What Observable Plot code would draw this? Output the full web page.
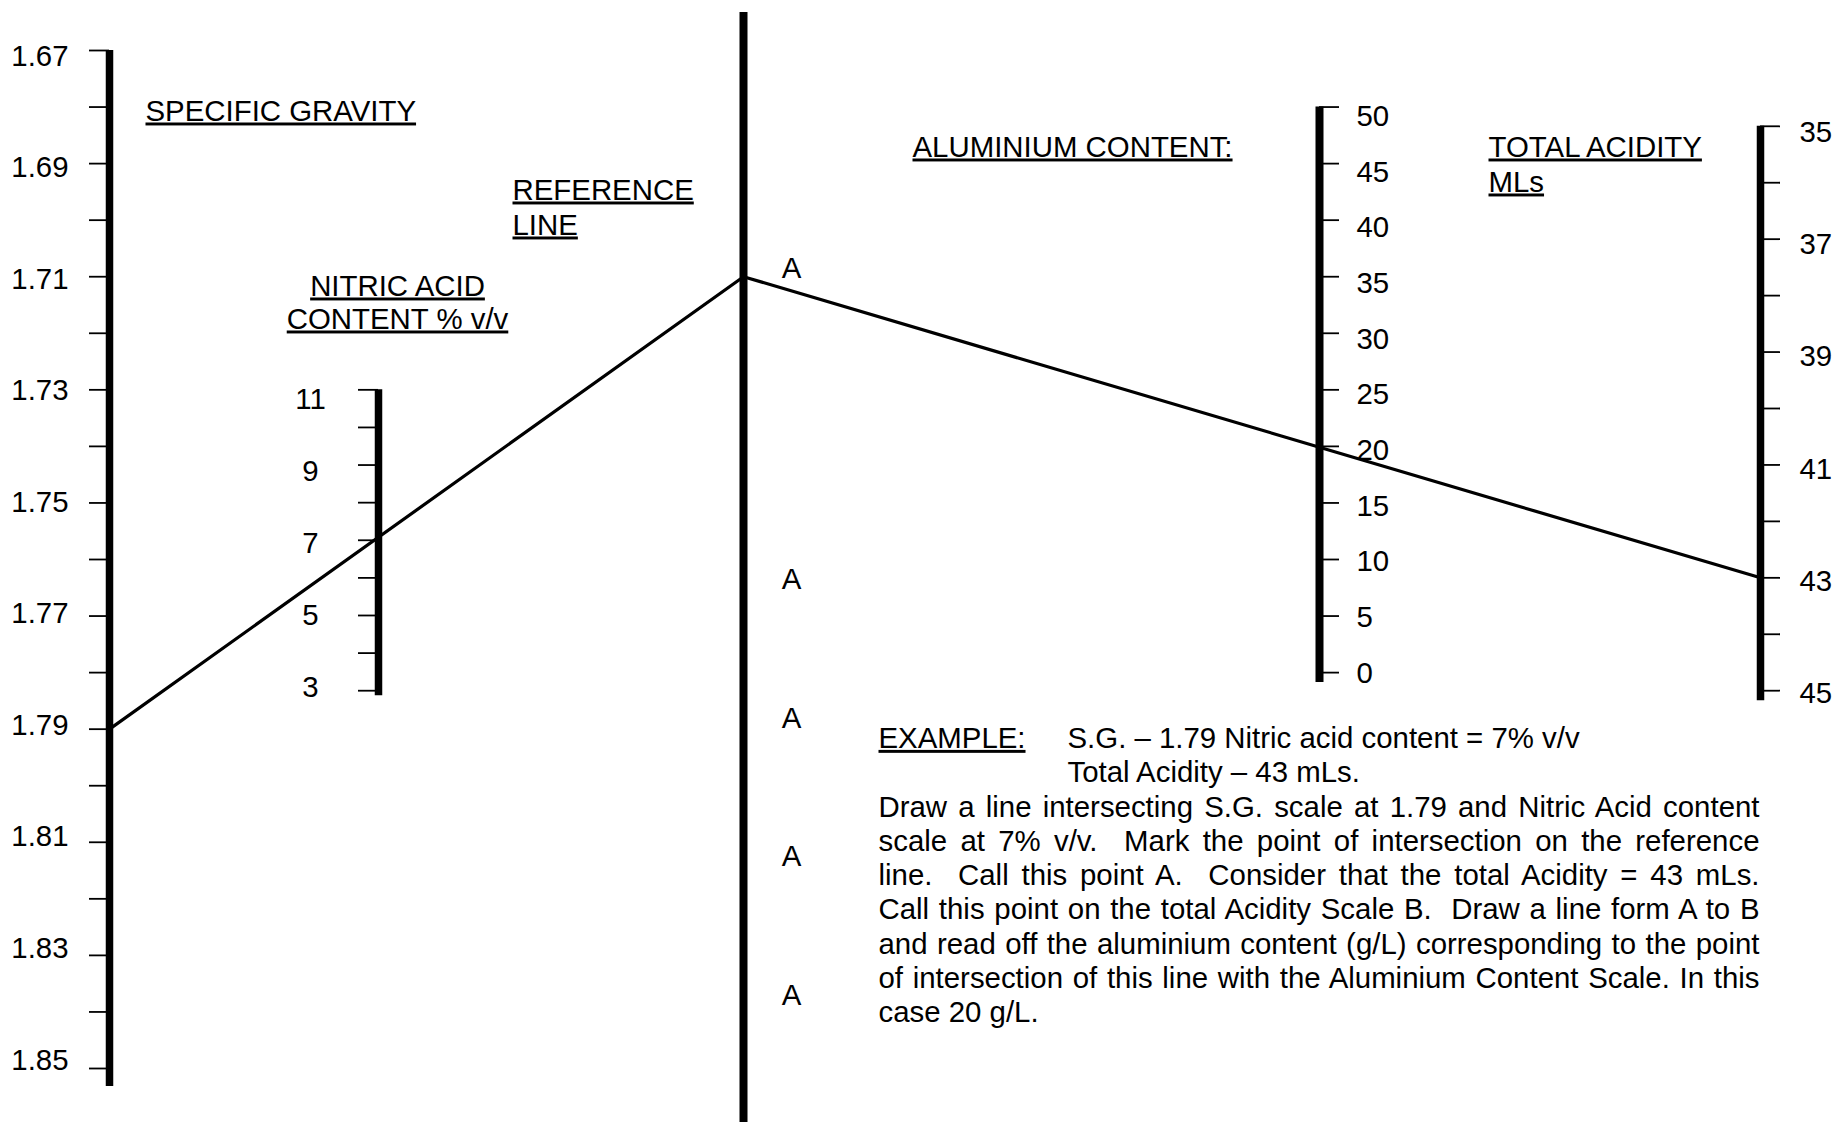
<!DOCTYPE html>
<html>
<head>
<meta charset="utf-8">
<script src="https://cdn.jsdelivr.net/npm/d3@7"></script>
<script src="https://cdn.jsdelivr.net/npm/@observablehq/plot@0.6"></script>
<style>
  html, body { margin: 0; padding: 0; background: #fff; overflow: hidden; }
  #chart svg { display: block; }
</style>
</head>
<body>
<div id="chart"></div>
<script>
// ---------------- DATA ----------------
const sgTicks = [1.67, 1.68, 1.69, 1.70, 1.71, 1.72, 1.73, 1.74, 1.75, 1.76, 1.77, 1.78, 1.79, 1.80, 1.81, 1.82, 1.83, 1.84, 1.85];
const sgLabels = [1.67, 1.69, 1.71, 1.73, 1.75, 1.77, 1.79, 1.81, 1.83, 1.85];
const nitricTicks = [3, 4, 5, 6, 7, 8, 9, 10, 11];
const nitricLabels = [3, 5, 7, 9, 11];
const aluminiumTicks = [0, 5, 10, 15, 20, 25, 30, 35, 40, 45, 50];
const aluminiumLabels = [0, 5, 10, 15, 20, 25, 30, 35, 40, 45, 50];
const acidityTicks = [35, 36, 37, 38, 39, 40, 41, 42, 43, 44, 45];
const acidityLabels = [35, 37, 39, 41, 43, 45];

const exampleSG = 1.79;        // S.G. reading
const exampleNitric = 7;       // nitric acid % v/v
const exampleRefLevel = 1.71;  // point A on the reference line (S.G. level)
const exampleAcidity = 43;     // total acidity, mLs

const sgTitle = ["SPECIFIC GRAVITY"];
const nitricTitle = ["NITRIC ACID", "CONTENT % v/v"];
const refTitle = ["REFERENCE", "LINE"];
const aluminiumTitle = ["ALUMINIUM CONTENT:"];
const acidityTitle = ["TOTAL ACIDITY", "MLs"];
const pointLabels = ["A", "A", "A", "A", "A"];
const exampleHead = ["EXAMPLE:"];
const exampleGiven = ["S.G. \u2013 1.79 Nitric acid content = 7% v/v", "Total Acidity \u2013 43 mLs."];
const exampleBody = [
  "Draw a line intersecting S.G. scale at 1.79 and Nitric Acid content",
  "scale at 7% v/v.  Mark the point of intersection on the reference",
  "line.  Call this point A.  Consider that the total Acidity = 43 mLs.",
  "Call this point on the total Acidity Scale B.  Draw a line form A to B",
  "and read off the aluminium content (g/L) corresponding to the point",
  "of intersection of this line with the Aluminium Content Scale. In this"
];
const exampleLast = ["case 20 g/L."];

// ---------------- LAYOUT ----------------
const W = 1835, H = 1122;
const FS = 29.4;
const FONT = "'Liberation Sans', Arial, Helvetica, sans-serif";
const AX = {sg: 109, nitric: 378, ref: 743, al: 1319, ta: 1760};
const TICK = 20;
const LH = 34.3;
const Y_RANGE = [50, 1068];
const PX = 0.18 / (Y_RANGE[1] - Y_RANGE[0]); // one pixel in S.G. units

// each secondary scale expressed in the units of the S.G. (y) scale
const sgToY = d3.scaleLinear([1.67, 1.85], [1.67, 1.85]);
const nitricToY = d3.scaleLinear([11, 3], [1.73, 1.7832]);
const alToY = d3.scaleLinear([50, 0], [1.68, 1.78]);
const taToY = d3.scaleLinear([35, 45], [1.6834, 1.7832]);

// label baseline offsets (px) at the first and last label of each scale
function labelY(toY, labels, offFirst, offLast) {
  const v0 = labels[0], v1 = labels[labels.length - 1];
  const off = d3.scaleLinear([v0, v1], [offFirst, offLast]);
  return d => toY(d) + off(d) * PX;
}

const guide = [
  {x: AX.sg, y: exampleSG},
  {x: AX.ref, y: exampleRefLevel},
  {x: AX.ta, y: taToY(exampleAcidity)}
];

function textLines(lines, px, baseline, lh, opts = {}) {
  return lines.map((t, i) => Plot.text([t], {
    text: d => d, frameAnchor: "top-left", dx: px, dy: baseline + i * lh,
    lineAnchor: "bottom", fontSize: FS, fill: "black", ...opts
  }));
}

const aBaselines = [277, 588, 727, 865, 1004];

const marks = [
  // scale bars
  Plot.ruleX([AX.sg], {x: d => d, y1: sgTicks[0], y2: sgTicks[sgTicks.length - 1], insetBottom: -18, strokeWidth: 7.5, stroke: "black"}),
  Plot.ruleX([AX.nitric], {x: d => d, y1: nitricToY(11), y2: nitricToY(3), insetBottom: -5, strokeWidth: 7.5, stroke: "black"}),
  Plot.ruleX([AX.ref], {x: d => d, insetTop: 12, strokeWidth: 8, stroke: "black"}),
  Plot.ruleX([AX.al], {x: d => d, y1: alToY(50), y2: alToY(0), insetBottom: -10, strokeWidth: 8, stroke: "black"}),
  Plot.ruleX([AX.ta], {x: d => d, y1: taToY(35), y2: taToY(45), insetBottom: -10, strokeWidth: 7.5, stroke: "black"}),

  // ticks
  Plot.ruleY(sgTicks, {y: d => d, x1: AX.sg - TICK, x2: AX.sg, strokeWidth: 1.8, stroke: "black"}),
  Plot.ruleY(nitricTicks, {y: d => nitricToY(d), x1: AX.nitric - TICK, x2: AX.nitric, strokeWidth: 1.8, stroke: "black"}),
  Plot.ruleY(aluminiumTicks, {y: d => alToY(d), x1: AX.al, x2: AX.al + TICK, strokeWidth: 1.8, stroke: "black"}),
  Plot.ruleY(acidityTicks, {y: d => taToY(d), x1: AX.ta, x2: AX.ta + TICK, strokeWidth: 1.8, stroke: "black"}),

  // tick labels
  Plot.text(sgLabels, {x: AX.sg - 41, y: labelY(sgToY, sgLabels, 15, 1), text: d => d.toFixed(2), textAnchor: "end", lineAnchor: "bottom", fontSize: FS, fill: "black"}),
  Plot.text(nitricLabels, {x: AX.nitric - 68, y: labelY(nitricToY, nitricLabels, 6, 19), text: d => String(d), textAnchor: "middle", lineAnchor: "bottom", fontSize: FS, fill: "black"}),
  Plot.text(aluminiumLabels, {x: AX.al + 37, y: labelY(alToY, aluminiumLabels, 10, 19), text: d => String(d), textAnchor: "start", lineAnchor: "bottom", fontSize: FS, fill: "black"}),
  Plot.text(acidityLabels, {x: AX.ta + 39, y: labelY(taToY, acidityLabels, 16, 12), text: d => String(d), textAnchor: "start", lineAnchor: "bottom", fontSize: FS, fill: "black"}),

  // example guide line
  Plot.line(guide, {x: "x", y: "y", stroke: "black", strokeWidth: 3.2, strokeLinejoin: "miter"}),

  // titles
  ...textLines(sgTitle, 145, 120, LH),
  ...textLines(nitricTitle, 397, 295, 33, {textAnchor: "middle"}),
  ...textLines(refTitle, 512, 199, 35),
  ...textLines(aluminiumTitle, 912, 156, LH),
  ...textLines(acidityTitle, 1488, 156, 35),

  // point labels on the reference line
  ...pointLabels.map((t, i) => Plot.text([t], {text: d => d, frameAnchor: "top-left", dx: 791, dy: aBaselines[i], textAnchor: "middle", lineAnchor: "bottom", fontSize: FS, fill: "black"})),

  // example text
  ...textLines(exampleHead, 878, 747.4, LH),
  ...textLines(exampleGiven, 1067, 747.4, LH),
  ...textLines(exampleBody, 878, 747.4 + 2 * LH, LH),
  ...textLines(exampleLast, 878, 747.4 + 8 * LH, LH)
];

const svg = Plot.plot({
  width: W,
  height: H,
  margin: 0,
  x: {domain: [0, W], range: [0, W], axis: null},
  y: {domain: [1.67, 1.85], range: Y_RANGE, axis: null},
  style: {background: "white", fontFamily: FONT, fontSize: FS + "px", color: "black", overflow: "visible"},
  marks
});

document.getElementById("chart").appendChild(svg);

const underlined = new Set([...sgTitle, ...nitricTitle, ...refTitle, ...aluminiumTitle, ...acidityTitle, ...exampleHead]);
const justified = new Set(exampleBody);
const JUSTIFY_WIDTH = 1759 - 878;

d3.select(svg).selectAll("text").each(function () {
  const t = this.textContent;
  this.style.whiteSpace = "pre";
  this.style.fontFamily = FONT;
  if (underlined.has(t)) this.style.textDecoration = "underline";
  if (justified.has(t)) {
    const natural = this.getComputedTextLength();
    const spaces = (t.match(/ /g) || []).length;
    if (spaces > 0) this.style.wordSpacing = ((JUSTIFY_WIDTH - natural) / spaces) + "px";
  }
});
</script>
</body>
</html>
